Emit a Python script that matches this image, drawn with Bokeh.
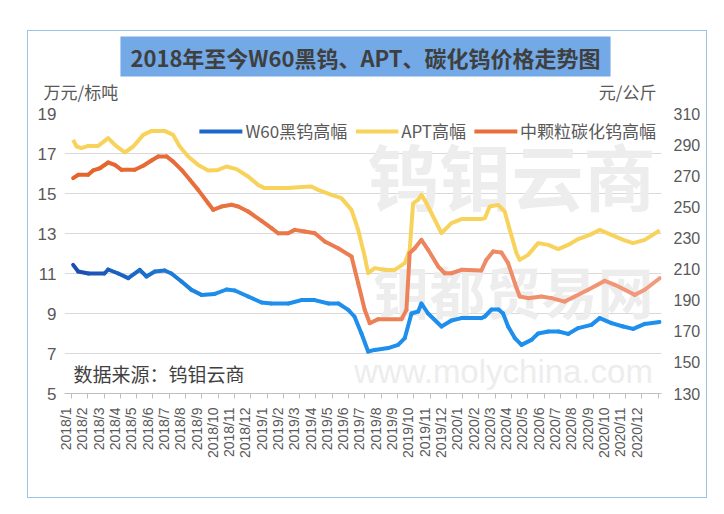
import math
from bokeh.plotting import figure
from bokeh.models import Range1d, LinearAxis, FixedTicker, Label, Legend, LegendItem
from bokeh.embed import file_html
from bokeh.resources import INLINE

# ---------------- data ----------------
TITLE = "2018年至今W60黑钨、APT、碳化钨价格走势图"
LEFT_UNIT = "万元/标吨"
RIGHT_UNIT = "元/公斤"
SOURCE = "数据来源：钨钼云商"
series_names = ["W60黑钨高幅", "APT高幅", "中颗粒碳化钨高幅"]

month_labels = ["2018/1", "2018/2", "2018/3", "2018/4", "2018/5", "2018/6",
                "2018/7", "2018/8", "2018/9", "2018/10", "2018/11", "2018/12",
                "2019/1", "2019/2", "2019/3", "2019/4", "2019/5", "2019/6",
                "2019/7", "2019/8", "2019/9", "2019/10", "2019/11", "2019/12",
                "2020/1", "2020/2", "2020/3", "2020/4", "2020/5", "2020/6",
                "2020/7", "2020/8", "2020/9", "2020/10", "2020/11", "2020/12"]
left_ticks = [5, 7, 9, 11, 13, 15, 17, 19]
right_ticks = [130, 150, 170, 190, 210, 230, 250, 270, 290, 310]

# time in months since 2018/1 ; W60 (万元/标吨)
w60_t = [0.10, 0.41, 1.04, 2.02, 2.25, 2.87, 3.48, 4.19, 4.60, 5.11,
         5.72, 6.13, 6.75, 7.36, 7.98, 8.79, 9.51, 10.02, 10.84, 11.66,
         12.27, 13.31, 14.11, 14.91, 15.77, 16.38, 16.98, 17.36, 17.79, 18.20,
         18.61, 19.43, 20.04, 20.45, 20.86, 21.27, 21.47, 21.88, 22.70, 23.31,
         23.93, 25.15, 25.36, 25.77, 26.20, 26.48, 26.79, 27.20, 27.61, 28.22,
         28.63, 29.26, 29.88, 30.47, 31.09, 31.90, 32.41, 33.13, 33.85, 34.46,
         35.17, 36.09]
w60_v = [11.43, 11.1, 11.0, 11.0, 11.2, 11.0, 10.77, 11.18, 10.85, 11.1,
         11.15, 11.0, 10.6, 10.18, 9.93, 9.98, 10.2, 10.15, 9.85, 9.55,
         9.5, 9.5, 9.67, 9.67, 9.5, 9.5, 9.18, 8.85, 8.0, 7.1,
         7.18, 7.27, 7.43, 7.77, 9.0, 9.1, 9.5, 9.0, 8.35, 8.65,
         8.77, 8.77, 8.85, 9.2, 9.2, 9.0, 8.35, 7.77, 7.43, 7.68,
         8.0, 8.1, 8.1, 7.98, 8.27, 8.43, 8.77, 8.52, 8.35, 8.23,
         8.48, 8.57]

# APT (万元/标吨)
apt_t = [0.10, 0.31, 0.61, 1.02, 1.64, 2.25, 2.66, 3.27, 3.79, 4.40,
         4.91, 5.72, 6.24, 6.64, 7.16, 7.77, 8.39, 9.00, 9.51, 10.12,
         10.84, 11.45, 11.84, 13.31, 14.11, 14.72, 15.13, 15.95, 16.56, 17.18,
         17.59, 17.99, 18.20, 18.61, 19.22, 19.83, 20.45, 20.75, 20.96, 21.27,
         21.47, 21.78, 22.19, 22.70, 23.31, 23.93, 25.15, 25.36, 25.66, 26.18,
         26.58, 26.89, 27.30, 27.50, 28.02, 28.63, 29.25, 29.86, 30.47, 31.09,
         31.80, 32.41, 33.13, 33.85, 34.46, 35.17, 36.09]
apt_v = [17.68, 17.35, 17.27, 17.38, 17.38, 17.77, 17.43, 17.05, 17.35, 17.93,
         18.13, 18.13, 17.93, 17.35, 16.85, 16.43, 16.15, 16.18, 16.35, 16.22,
         15.85, 15.43, 15.27, 15.27, 15.32, 15.35, 15.18, 14.93, 14.77, 14.18,
         13.18, 11.85, 11.02, 11.27, 11.18, 11.18, 11.52, 12.18, 14.52, 14.68,
         14.93, 14.52, 13.85, 13.02, 13.52, 13.72, 13.72, 13.77, 14.35, 14.43,
         14.1, 13.18, 12.02, 11.68, 11.93, 12.52, 12.43, 12.22, 12.43, 12.72,
         12.93, 13.18, 12.93, 12.68, 12.52, 12.68, 13.15]

# medium-grain tungsten carbide (元/公斤)
wc_t = [0.10, 0.41, 1.02, 1.33, 1.74, 2.25, 2.66, 3.07, 3.88, 4.40,
        4.91, 5.32, 5.83, 6.24, 6.75, 7.26, 7.77, 8.39, 8.69, 9.20,
        9.82, 10.23, 10.84, 11.66, 12.27, 12.68, 13.29, 13.70, 14.31, 14.93,
        15.54, 16.36, 17.18, 17.59, 17.99, 18.30, 18.82, 20.25, 20.55, 20.75,
        21.06, 21.47, 21.88, 22.50, 22.90, 23.31, 23.93, 25.15, 25.46, 25.87,
        26.38, 26.79, 27.20, 27.50, 28.02, 28.83, 29.45, 30.26, 30.88, 31.70,
        32.72, 33.33, 33.95, 34.56, 35.17, 36.09]
wc_v = [268.4, 270.6, 270.6, 273.4, 274.8, 278.5, 277, 273.8, 273.8, 276.4,
        279.8, 282.4, 282.4, 279.1, 273.8, 267.4, 260.9, 252.3, 248.1, 250.2,
        251.3, 250.2, 247, 241, 236.3, 233, 233, 235.2, 234.1, 233,
        227.7, 223.4, 218.1, 200.9, 183.8, 175.2, 177.8, 177.8, 183.8, 220.2,
        223.4, 228.8, 222.4, 211.6, 207.3, 207.3, 209.5, 209.1, 216, 221.3,
        220.6, 213.8, 200.9, 192.4, 191.3, 192.4, 191.3, 189.1, 192.4, 196.7,
        202.4, 199.9, 196.7, 193.4, 196.7, 204.1]

# ---------------- layout (page pixels) ----------------
FIG_X, FIG_Y, FIG_W, FIG_H = 27, 30, 680, 468
FRAME_L, FRAME_R, FRAME_T, FRAME_B = 63, 660, 112, 392
XR0, XR1 = -0.43, 36.2
YL0, YL1 = 5, 19
PPM = (FRAME_R - FRAME_L) / (XR1 - XR0)


def xd(px):
    return XR0 + (px - FRAME_L) / PPM


def yd(py):
    return YL1 - (py - FRAME_T) * (YL1 - YL0) / (FRAME_B - FRAME_T)


def hex2rgb(h):
    return tuple(int(h[i:i + 2], 16) for i in (1, 3, 5))


def gradient(c0, c1, s0, s1, s):
    """colour of a line at position s, fading from c0 (at s0) to c1 (at s1)"""
    f = min(max((s - s0) / (s1 - s0), 0.0), 1.0)
    a, b = hex2rgb(c0), hex2rgb(c1)
    return "#%02x%02x%02x" % tuple(round(a[i] + (b[i] - a[i]) * f) for i in range(3))


def segments(t, v):
    xs = [[t[i], t[i + 1]] for i in range(len(t) - 1)]
    ys = [[v[i], v[i + 1]] for i in range(len(v) - 1)]
    mids = [(t[i] + t[i + 1]) / 2 for i in range(len(t) - 1)]
    return xs, ys, mids


CJK = "Noto Sans CJK SC"
GREY = "#595959"

p = figure(width=FIG_W, height=FIG_H,
           x_range=Range1d(XR0, XR1), y_range=Range1d(YL0, YL1),
           output_backend="svg", toolbar_location=None,
           min_border_left=FRAME_L - FIG_X, min_border_right=FIG_X + FIG_W - FRAME_R,
           min_border_top=FRAME_T - FIG_Y, min_border_bottom=FIG_Y + FIG_H - FRAME_B,
           margin=(FIG_Y, 0, 0, FIG_X),
           styles={"border": "1px solid #9DC3E6"})
p.outline_line_color = None
p.background_fill_color = "white"
p.border_fill_color = "white"

# watermark (underlay, inside the frame)
for txt, cx, cy, size, font, style in [
        ("钨钼云商", 510, 172, "72px", CJK, "bold"),
        ("钼都贸易网", 512, 288, "56px", CJK, "bold"),
        ("www.molychina.com", 502, 370, "33px", "Liberation Sans", "normal")]:
    p.add_layout(Label(x=xd(cx), y=yd(cy), text=txt, text_align="center",
                       text_baseline="middle", text_font=font,
                       text_font_size=size, text_font_style=style,
                       text_color="#EDEDED", level="underlay"))

# grid & axes
p.xgrid.visible = False
p.ygrid.ticker = FixedTicker(ticks=left_ticks)
p.ygrid.grid_line_color = "#D9D9D9"

xa = p.xaxis[0]
label_pos = [m - 0.33 for m in range(len(month_labels))]
xa.ticker = FixedTicker(ticks=label_pos, minor_ticks=list(range(len(month_labels) + 1)))
xa.major_label_overrides = {pos: lab for pos, lab in zip(label_pos, month_labels)}
xa.major_label_orientation = math.pi / 2
xa.major_tick_line_color = None
xa.major_tick_out = 0
xa.major_tick_in = 0
xa.minor_tick_line_color = "#BFBFBF"
xa.minor_tick_out = 5
xa.minor_tick_in = 0
xa.axis_line_color = "#BFBFBF"
xa.major_label_standoff = 9
xa.major_label_text_font = "Liberation Sans"
xa.major_label_text_font_size = "14px"
xa.major_label_text_color = GREY

ya = p.yaxis[0]
ya.ticker = FixedTicker(ticks=left_ticks)
ya.axis_line_color = None
ya.major_tick_line_color = None
ya.major_tick_out = 0
ya.major_tick_in = 0
ya.minor_tick_line_color = None
ya.major_label_standoff = 8
ya.major_label_text_font = "Liberation Sans"
ya.major_label_text_font_size = "17px"
ya.major_label_text_color = GREY

p.extra_y_ranges = {"wc": Range1d(right_ticks[0], right_ticks[-1])}
ra = LinearAxis(y_range_name="wc", ticker=FixedTicker(ticks=right_ticks),
                axis_line_color=None, major_tick_line_color=None,
                major_tick_out=0, major_tick_in=0,
                minor_tick_line_color=None, major_label_standoff=12,
                major_label_text_font="Liberation Sans",
                major_label_text_font_size="16px", major_label_text_color=GREY)
p.add_layout(ra, "right")

# lines (colour fades along the time axis like the original)
bx, by, bm = segments(w60_t, w60_v)
r_w60 = p.multi_line(bx, by, line_color=[gradient("#1B4AAE", "#1E8FEC", 0, 9, s) for s in bm],
                     line_width=4, line_cap="round", line_join="round")
r_apt = p.line(apt_t, apt_v, line_color="#F8D35C", line_width=4, line_join="round")
ox, oy, om = segments(wc_t, wc_v)
r_wc = p.multi_line(ox, oy, line_color=[gradient("#E5622A", "#F29B7E", 0, 36, s) for s in om],
                    line_width=4, line_cap="round", line_join="round", y_range_name="wc")

legend = Legend(items=[LegendItem(label=series_names[0], renderers=[r_w60], index=6),
                       LegendItem(label=series_names[1], renderers=[r_apt]),
                       LegendItem(label=series_names[2], renderers=[r_wc], index=15)],
                orientation="horizontal", location="top_right",
                label_text_font=CJK, label_text_font_size="17px",
                label_text_color=GREY, glyph_width=43, glyph_height=16,
                label_standoff=3, spacing=8, padding=3, margin=5,
                background_fill_alpha=0, border_line_color=None)
p.add_layout(legend)

# texts outside the frame live in side panels (not clipped), placed by data coords
p.add_layout(Label(x=xd(364), y=yd(55), text=TITLE, text_align="center",
                   text_baseline="middle", text_font=CJK, text_font_size="22px",
                   text_font_style="bold", text_color="#3F3F3F",
                   background_fill_color="#72A9E6", padding=(10, 4)), "above")
p.add_layout(Label(x=xd(42), y=yd(90), text=LEFT_UNIT, text_align="left",
                   text_baseline="middle", text_font=CJK, text_font_size="17px",
                   text_color=GREY), "above")
p.add_layout(Label(x=xd(655), y=yd(90), text=RIGHT_UNIT, text_align="right",
                   text_baseline="middle", text_font=CJK, text_font_size="17px",
                   text_color=GREY), "below")
p.add_layout(Label(x=xd(72), y=yd(372), text=SOURCE, text_align="left",
                   text_baseline="middle", text_font=CJK, text_font_size="19px",
                   text_color="#404040"))

with open("out.html", "w", encoding="utf-8") as f:
    f.write(file_html(p, INLINE))
